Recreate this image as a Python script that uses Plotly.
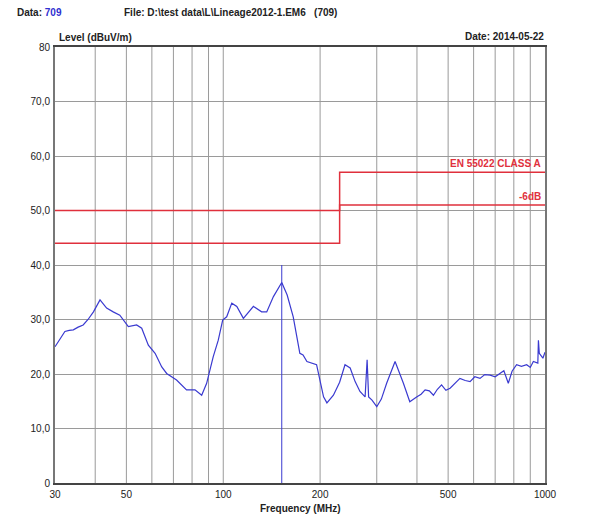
import plotly.graph_objects as go

# Measured level trace (MHz, dBuV/m)
freq_mhz = [30, 31, 32.2, 33.2, 34.2, 35.4, 36.7, 38, 39.5, 41.4, 43.4, 45.5, 47.7, 50.7,
            53.8, 55.8, 58.5, 61.4, 64.4, 66.7, 71.6, 76.9, 81.7, 85.7, 88.8, 93.1, 96.5,
            99.6, 102.5, 106.3, 110.2, 115.5, 120, 124.1, 131.6, 136.5, 143.2, 148, 152,
            158, 165, 173, 177, 182, 195, 205, 210, 220, 230, 239, 248, 257, 266, 276,
            280, 283, 290, 300, 310, 322, 342, 363, 380, 399, 412, 424, 437, 450, 463,
            477, 492, 507, 525, 544, 565, 585, 605, 628, 650, 675, 700, 725, 745, 769,
            790, 816, 845, 877, 900, 920, 940, 950, 954, 960, 985, 1000]
level_dbuv = [25.0, 26.3, 27.8, 28.0, 28.1, 28.6, 29.0, 30.0, 31.4, 33.6, 32.1, 31.4, 30.8,
              28.7, 29.0, 28.4, 25.3, 23.8, 21.3, 20.1, 18.9, 17.1, 17.1, 16.1, 18.3,
              23.2, 26.2, 29.9, 30.5, 33.0, 32.4, 30.2, 31.3, 32.4, 31.4, 31.4, 34.2,
              35.6, 36.8, 34.5, 30.5, 23.8, 23.5, 22.3, 21.7, 15.8, 14.7, 16.1, 18.5,
              21.7, 21.1, 18.6, 16.8, 15.8, 22.6, 15.8, 15.2, 14.0, 15.4, 18.3, 22.3,
              18.3, 14.9, 15.8, 16.3, 17.1, 16.9, 16.1, 17.2, 18.0, 17.0, 17.4, 18.3,
              19.2, 18.8, 18.6, 19.5, 19.2, 19.9, 19.8, 19.5, 20.1, 20.6, 18.3, 20.5,
              21.7, 21.4, 21.7, 21.2, 22.3, 22.0, 22.0, 26.2, 23.8, 22.9, 24.0]

# Limit lines
limit_freq = [30, 230, 1000]
class_a_level = [50, 57, 57]
class_a_minus6_level = [44, 51, 51]

# Marker 1
marker_freq = [152, 152]
marker_level = [0, 40]

# Axis ticks
x_tickvals = [30, 50, 100, 200, 500, 1000]
x_ticktext = ["30", "50", "100", "200", "500", "1000"]
x_gridvals = [40, 50, 60, 70, 80, 90, 100, 200, 300, 400, 500, 600, 700, 800, 900]
y_tickvals = [0, 10, 20, 30, 40, 50, 60, 70, 80]
y_ticktext = ["0", "10,0", "20,0", "30,0", "40,0", "50,0", "60,0", "70,0", "80"]

FONT = "Liberation Sans Narrow, Liberation Sans, Arial"
RED = "#e0303c"
BLUE = "#3a3ad0"
GRID = "#9a9a9a"

fig = go.Figure()

# vertical grid lines
for g in x_gridvals:
    fig.add_shape(type="line", xref="x", yref="y", x0=g, x1=g, y0=0, y1=80,
                  line=dict(color=GRID, width=1), layer="below")

fig.add_trace(go.Scatter(x=limit_freq, y=class_a_level, mode="lines", line_shape="hv",
                         line=dict(color=RED, width=1.5), hoverinfo="skip"))
fig.add_trace(go.Scatter(x=limit_freq, y=class_a_minus6_level, mode="lines", line_shape="hv",
                         line=dict(color=RED, width=1.5), hoverinfo="skip"))
fig.add_trace(go.Scatter(x=marker_freq, y=marker_level, mode="lines",
                         line=dict(color=BLUE, width=1), hoverinfo="skip"))
fig.add_trace(go.Scatter(x=freq_mhz, y=level_dbuv, mode="lines",
                         line=dict(color=BLUE, width=1.2)))

fig.add_annotation(x=152, y=40, xref="x", yref="y", text="1", showarrow=False,
                   yanchor="bottom", font=dict(family=FONT, size=9, color=BLUE))
fig.add_annotation(x=1.0, y=class_a_level[-1], xref="paper", yref="y",
                   text="<b>EN 55022 CLASS A</b>", showarrow=False, xanchor="right",
                   yanchor="bottom", xshift=-2, yshift=1,
                   font=dict(family=FONT, size=10, color=RED))
fig.add_annotation(x=1.0, y=class_a_minus6_level[-1], xref="paper", yref="y",
                   text="<b>-6dB</b>", showarrow=False, xanchor="right",
                   yanchor="bottom", xshift=-2, yshift=1,
                   font=dict(family=FONT, size=10, color=RED))

# header texts (page pixel -> paper: plot area spans x 55..545, y 47..483)
def px(x):
    return (x - 55) / 490.0

def py(y):
    return (483 - y) / 436.0

fig.add_annotation(x=px(15), y=py(13), xref="paper", yref="paper",
                   text="<b>Data: <span style='color:#3030d0'>709</span></b>",
                   showarrow=False, xanchor="left", yanchor="middle",
                   font=dict(family=FONT, size=10, color="#222"))
fig.add_annotation(x=px(122), y=py(13), xref="paper", yref="paper",
                   text="<b>File: D:\\test data\\L\\Lineage2012-1.EM6   (709)</b>",
                   showarrow=False, xanchor="left", yanchor="middle",
                   font=dict(family=FONT, size=10, color="#222"))
fig.add_annotation(x=px(57), y=py(38), xref="paper", yref="paper",
                   text="<b>Level (dBuV/m)</b>", showarrow=False,
                   xanchor="left", yanchor="middle",
                   font=dict(family=FONT, size=10, color="#222"))
fig.add_annotation(x=px(546), y=py(36), xref="paper", yref="paper",
                   text="<b>Date: 2014-05-22</b>", showarrow=False,
                   xanchor="right", yanchor="middle",
                   font=dict(family=FONT, size=10, color="#222"))
fig.add_annotation(x=px(300), y=py(508), xref="paper", yref="paper",
                   text="<b>Frequency (MHz)</b>", showarrow=False,
                   xanchor="center", yanchor="middle",
                   font=dict(family=FONT, size=10, color="#222"))

# page body has an 8px margin, so offset the figure margins to place the plot at 55..545 x 47..483
fig.update_layout(
    width=600, height=519,
    margin=dict(l=47, r=63, t=39, b=44),
    paper_bgcolor="white", plot_bgcolor="white",
    showlegend=False,
    font=dict(family=FONT, size=10, color="#222"),
)
fig.update_xaxes(type="log", range=[1.4771, 3.0], tickvals=x_tickvals, ticktext=x_ticktext,
                 showgrid=False, zeroline=False, showline=True, linecolor="#444",
                 linewidth=1.5, mirror=True, ticks="", tickfont=dict(family=FONT, size=10),
                 ticklabelstandoff=1, automargin=False)
fig.update_yaxes(range=[0, 80], tickvals=y_tickvals, ticktext=y_ticktext,
                 showgrid=True, gridcolor=GRID, gridwidth=1, zeroline=False,
                 showline=True, linecolor="#777", linewidth=2, mirror=True, ticks="",
                 tickfont=dict(family=FONT, size=10), ticklabelstandoff=1, automargin=False)

fig.write_html("out.html")
